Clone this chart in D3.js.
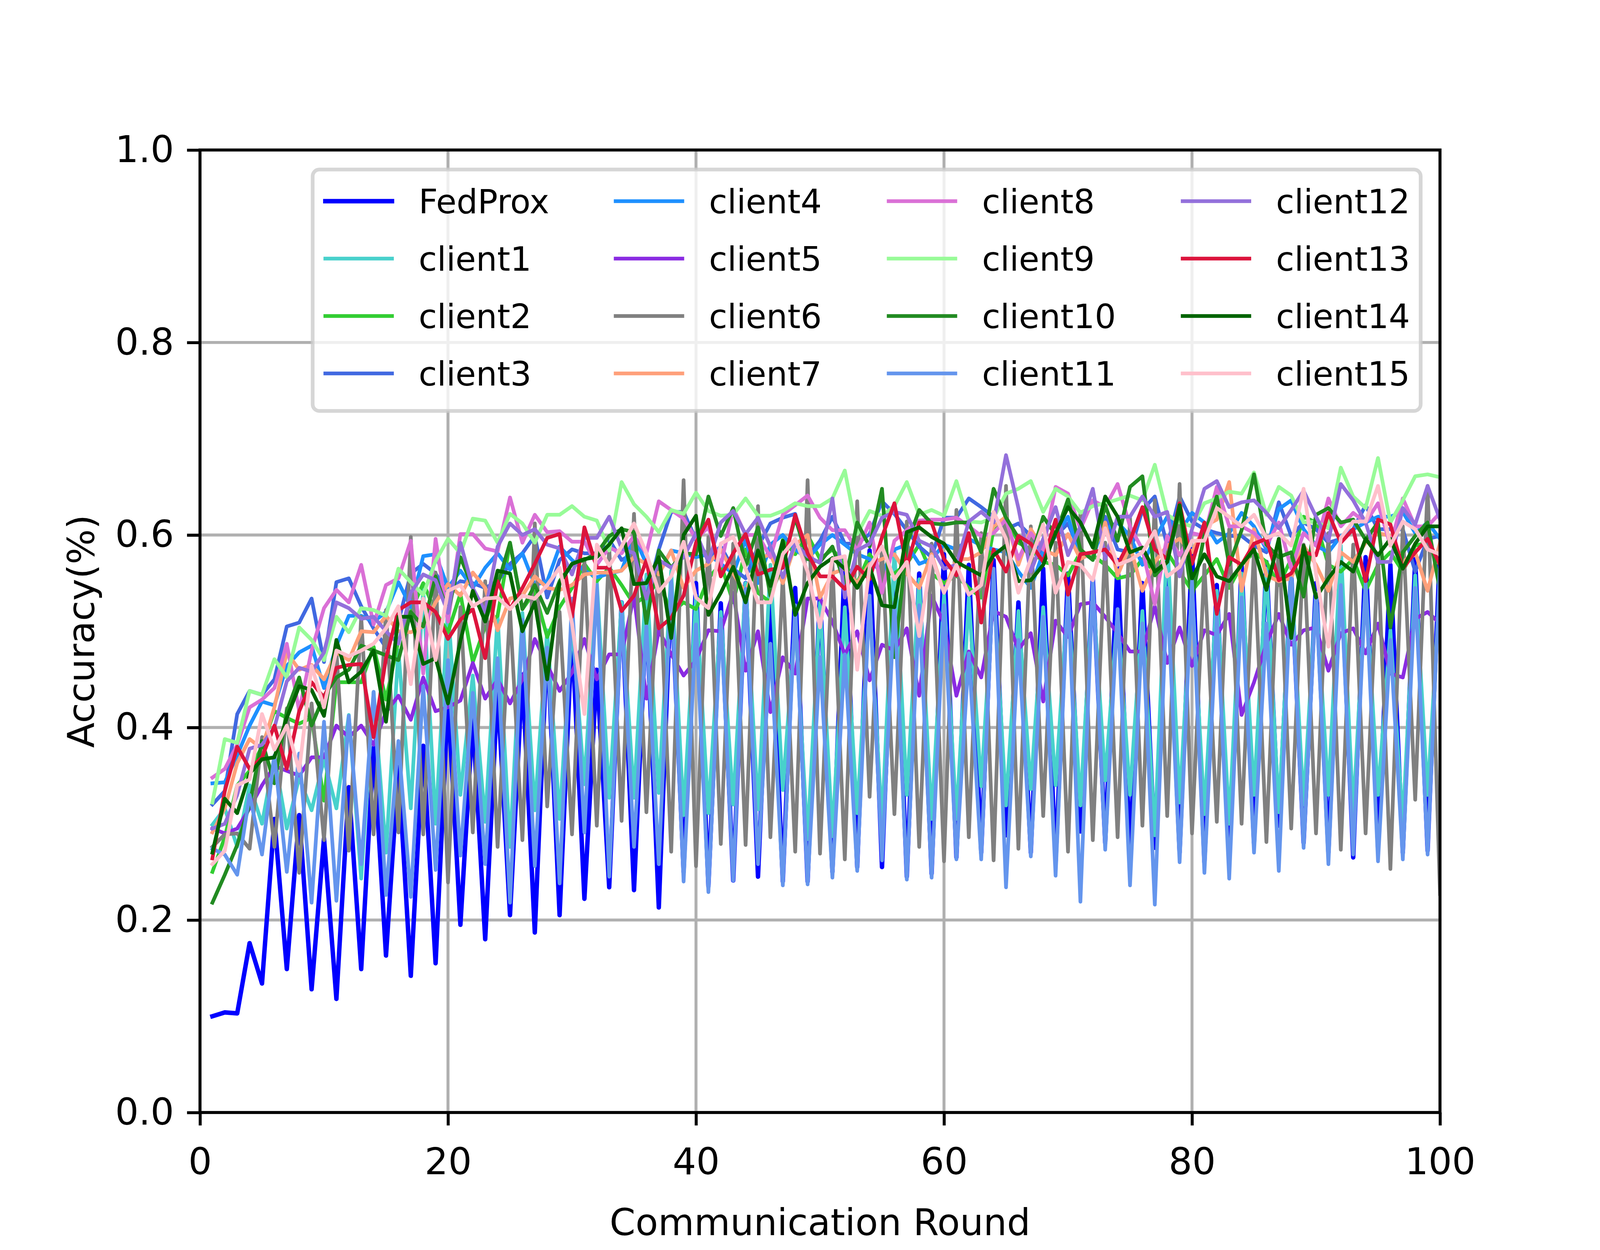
<!DOCTYPE html>
<html>
<head>
<meta charset="utf-8">
<script src="https://cdn.jsdelivr.net/npm/d3@7"></script>
<style>
  html, body { margin: 0; padding: 0; background: #ffffff; overflow: hidden; }
  svg { display: block; }
  text { font-family: "DejaVu Sans", sans-serif; fill: #000000; }
</style>
</head>
<body>
<svg id="chart"></svg>
<script>
// ---------------- DATA ----------------
const rounds = d3.range(1, 101);
const seriesNames = ["FedProx","client1","client2","client3","client4","client5","client6","client7",
                     "client8","client9","client10","client11","client12","client13","client14","client15"];
const seriesColors = ["#0000ff","#48d1cc","#32cd32","#4169e1","#1e90ff","#8a2be2","#808080","#ffa07a",
                      "#da70d6","#98fb98","#228b22","#6495ed","#9370db","#dc143c","#006400","#ffc0cb"];
const xTicks = [0, 20, 40, 60, 80, 100];
const yTicks = [0.0, 0.2, 0.4, 0.6, 0.8, 1.0];

const fedprox = [0.100,0.104,0.103,0.176,0.134,0.305,0.149,0.309,0.128,0.285,0.118,0.338,0.149,0.379,0.163,0.359,0.142,0.381,0.155,0.431,
0.195,0.41,0.18,0.44,0.205,0.455,0.187,0.49,0.205,0.50,0.222,0.46,0.234,0.53,0.231,0.52,0.213,0.55,0.25,0.55,
0.235,0.529,0.241,0.55,0.245,0.54,0.24,0.545,0.24,0.539,0.25,0.574,0.255,0.584,0.255,0.57,0.245,0.56,0.248,0.58,
0.265,0.569,0.27,0.574,0.288,0.53,0.27,0.565,0.26,0.56,0.292,0.555,0.28,0.574,0.27,0.55,0.275,0.57,0.27,0.585,
0.26,0.548,0.26,0.569,0.28,0.572,0.298,0.56,0.28,0.55,0.27,0.57,0.265,0.577,0.275,0.569,0.27,0.575,0.272,0.585];

const client1 = [0.299,0.316,0.276,0.34,0.30,0.37,0.295,0.348,0.314,0.367,0.316,0.413,0.243,0.437,0.27,0.48,0.316,0.544,0.30,0.526,
0.33,0.454,0.302,0.516,0.276,0.519,0.314,0.501,0.305,0.508,0.341,0.552,0.327,0.53,0.327,0.559,0.332,0.563,0.309,0.537,
0.311,0.52,0.32,0.55,0.315,0.569,0.335,0.51,0.284,0.53,0.287,0.525,0.311,0.53,0.3,0.584,0.33,0.554,0.305,0.538,
0.305,0.535,0.339,0.55,0.319,0.521,0.336,0.525,0.34,0.538,0.319,0.545,0.345,0.52,0.33,0.521,0.288,0.599,0.322,0.545,
0.31,0.542,0.3,0.56,0.33,0.565,0.312,0.56,0.32,0.54,0.33,0.589,0.31,0.55,0.33,0.501,0.30,0.558,0.33,0.55];

const client2 = [0.25,0.286,0.34,0.355,0.38,0.417,0.41,0.404,0.41,0.324,0.447,0.447,0.447,0.484,0.429,0.49,0.52,0.55,0.52,0.499,
0.539,0.468,0.505,0.516,0.592,0.523,0.541,0.494,0.525,0.545,0.57,0.552,0.566,0.548,0.528,0.537,0.552,0.519,0.53,0.523,
0.555,0.57,0.53,0.585,0.54,0.53,0.595,0.58,0.6,0.575,0.585,0.57,0.55,0.58,0.56,0.56,0.57,0.59,0.56,0.55,
0.558,0.545,0.535,0.606,0.619,0.592,0.585,0.572,0.569,0.558,0.582,0.579,0.569,0.555,0.558,0.575,0.562,0.582,0.562,0.542,
0.558,0.575,0.545,0.569,0.582,0.572,0.548,0.575,0.619,0.613,0.569,0.562,0.575,0.542,0.569,0.582,0.562,0.589,0.592,0.569];

const client3 = [0.32,0.334,0.414,0.438,0.434,0.45,0.505,0.509,0.534,0.468,0.551,0.555,0.526,0.503,0.483,0.51,0.56,0.57,0.56,0.54,
0.552,0.55,0.545,0.552,0.57,0.581,0.599,0.535,0.574,0.585,0.581,0.581,0.595,0.574,0.581,0.534,0.585,0.624,0.624,0.595,
0.577,0.588,0.565,0.555,0.588,0.612,0.618,0.622,0.577,0.594,0.619,0.591,0.591,0.601,0.635,0.622,0.605,0.588,0.577,0.618,
0.618,0.638,0.629,0.619,0.606,0.612,0.599,0.579,0.599,0.612,0.582,0.575,0.619,0.585,0.582,0.626,0.64,0.589,0.64,0.614,
0.606,0.602,0.599,0.599,0.589,0.582,0.634,0.599,0.613,0.606,0.592,0.596,0.606,0.631,0.606,0.606,0.606,0.562,0.596,0.599];

const client4 = [0.342,0.343,0.371,0.402,0.427,0.423,0.464,0.478,0.485,0.441,0.485,0.516,0.516,0.51,0.52,0.551,0.525,0.578,0.58,0.545,
0.563,0.545,0.566,0.581,0.564,0.581,0.548,0.552,0.588,0.574,0.563,0.556,0.56,0.563,0.599,0.57,0.56,0.584,0.581,0.577,
0.58,0.57,0.56,0.595,0.55,0.59,0.6,0.585,0.575,0.59,0.6,0.59,0.58,0.575,0.56,0.585,0.59,0.57,0.575,0.59,
0.585,0.596,0.589,0.585,0.582,0.562,0.545,0.582,0.599,0.619,0.575,0.582,0.606,0.613,0.599,0.569,0.596,0.619,0.602,0.623,
0.613,0.592,0.602,0.623,0.609,0.585,0.627,0.636,0.606,0.589,0.582,0.599,0.606,0.613,0.619,0.619,0.624,0.602,0.613,0.596];

const client5 = [0.295,0.29,0.295,0.316,0.34,0.36,0.355,0.35,0.369,0.369,0.402,0.39,0.402,0.382,0.416,0.433,0.408,0.452,0.417,0.421,
0.428,0.467,0.43,0.45,0.425,0.45,0.492,0.465,0.438,0.457,0.492,0.45,0.476,0.476,0.537,0.43,0.501,0.476,0.454,0.47,
0.501,0.5,0.54,0.459,0.5,0.416,0.473,0.456,0.534,0.534,0.51,0.476,0.5,0.449,0.486,0.48,0.503,0.433,0.537,0.508,
0.433,0.479,0.452,0.521,0.515,0.481,0.498,0.427,0.511,0.494,0.528,0.53,0.515,0.498,0.479,0.479,0.526,0.467,0.504,0.464,
0.501,0.496,0.518,0.413,0.447,0.487,0.518,0.486,0.501,0.504,0.459,0.498,0.503,0.477,0.508,0.456,0.452,0.513,0.52,0.508];

const client6 = [0.276,0.289,0.29,0.274,0.39,0.276,0.42,0.249,0.425,0.283,0.48,0.272,0.515,0.289,0.522,0.291,0.598,0.289,0.561,0.239,
0.525,0.291,0.552,0.276,0.523,0.283,0.612,0.318,0.52,0.289,0.574,0.298,0.588,0.303,0.622,0.312,0.58,0.271,0.657,0.256,
0.598,0.279,0.591,0.278,0.63,0.286,0.557,0.271,0.657,0.269,0.571,0.263,0.635,0.328,0.588,0.31,0.614,0.276,0.591,0.261,
0.626,0.286,0.602,0.262,0.651,0.274,0.609,0.308,0.592,0.271,0.624,0.283,0.592,0.286,0.618,0.298,0.636,0.308,0.653,0.29,
0.569,0.302,0.606,0.3,0.585,0.281,0.596,0.295,0.59,0.29,0.602,0.273,0.59,0.29,0.58,0.253,0.609,0.325,0.651,0.227];

const client7 = [0.291,0.316,0.363,0.388,0.378,0.421,0.478,0.46,0.465,0.45,0.478,0.47,0.50,0.499,0.516,0.50,0.499,0.505,0.53,0.549,
0.537,0.561,0.545,0.501,0.534,0.537,0.557,0.545,0.543,0.548,0.559,0.561,0.561,0.563,0.577,0.57,0.559,0.584,0.545,0.563,
0.57,0.585,0.56,0.54,0.575,0.58,0.55,0.59,0.6,0.535,0.56,0.565,0.55,0.57,0.575,0.58,0.56,0.545,0.58,0.54,
0.575,0.575,0.582,0.609,0.619,0.569,0.606,0.585,0.579,0.601,0.575,0.582,0.613,0.558,0.589,0.542,0.572,0.589,0.596,0.582,
0.609,0.616,0.655,0.542,0.606,0.558,0.552,0.555,0.589,0.569,0.542,0.582,0.572,0.592,0.602,0.599,0.572,0.582,0.542,0.592];

const client8 = [0.348,0.357,0.382,0.421,0.429,0.441,0.487,0.417,0.48,0.524,0.543,0.53,0.569,0.507,0.548,0.555,0.594,0.456,0.596,0.51,
0.601,0.601,0.586,0.583,0.639,0.592,0.621,0.603,0.604,0.593,0.593,0.569,0.587,0.581,0.599,0.581,0.635,0.626,0.617,0.596,
0.608,0.568,0.628,0.6,0.6,0.577,0.621,0.631,0.641,0.618,0.605,0.605,0.584,0.613,0.54,0.594,0.605,0.615,0.616,0.616,
0.618,0.609,0.599,0.602,0.616,0.575,0.602,0.585,0.65,0.643,0.606,0.636,0.629,0.653,0.609,0.585,0.528,0.599,0.579,0.602,
0.599,0.65,0.609,0.609,0.602,0.589,0.613,0.565,0.602,0.589,0.638,0.609,0.623,0.613,0.633,0.589,0.638,0.609,0.609,0.623];

const client9 = [0.322,0.388,0.384,0.438,0.434,0.471,0.452,0.504,0.491,0.47,0.515,0.499,0.524,0.522,0.516,0.565,0.551,0.538,0.573,0.596,
0.581,0.617,0.615,0.592,0.622,0.612,0.592,0.621,0.621,0.63,0.619,0.615,0.584,0.655,0.632,0.619,0.603,0.626,0.622,0.644,
0.625,0.62,0.621,0.638,0.62,0.62,0.625,0.633,0.63,0.63,0.638,0.667,0.601,0.625,0.62,0.63,0.655,0.621,0.626,0.62,
0.656,0.614,0.613,0.618,0.643,0.648,0.656,0.624,0.648,0.64,0.623,0.63,0.633,0.637,0.641,0.636,0.673,0.621,0.613,0.609,
0.633,0.638,0.645,0.643,0.665,0.621,0.65,0.641,0.613,0.614,0.607,0.67,0.64,0.628,0.68,0.613,0.636,0.661,0.663,0.66];

const client10 = [0.218,0.247,0.278,0.32,0.386,0.342,0.417,0.452,0.402,0.433,0.452,0.46,0.485,0.48,0.475,0.47,0.52,0.505,0.557,0.52,
0.577,0.545,0.51,0.548,0.592,0.523,0.548,0.519,0.552,0.57,0.574,0.581,0.599,0.606,0.603,0.508,0.584,0.566,0.581,0.58,
0.64,0.599,0.628,0.568,0.608,0.537,0.57,0.618,0.575,0.572,0.588,0.55,0.613,0.588,0.648,0.473,0.59,0.626,0.612,0.611,
0.613,0.613,0.582,0.648,0.618,0.597,0.575,0.619,0.6,0.637,0.585,0.574,0.631,0.594,0.65,0.661,0.558,0.572,0.626,0.535,
0.6,0.64,0.569,0.605,0.663,0.59,0.577,0.582,0.536,0.621,0.628,0.613,0.616,0.595,0.613,0.504,0.582,0.599,0.613,0.542];

const client11 = [0.274,0.268,0.247,0.33,0.268,0.371,0.25,0.373,0.218,0.406,0.22,0.412,0.258,0.437,0.226,0.386,0.224,0.443,0.252,0.47,
0.267,0.436,0.258,0.472,0.218,0.512,0.256,0.483,0.238,0.534,0.291,0.548,0.245,0.519,0.276,0.505,0.258,0.552,0.24,0.507,
0.229,0.513,0.241,0.544,0.258,0.487,0.236,0.527,0.237,0.473,0.244,0.476,0.251,0.537,0.262,0.53,0.242,0.527,0.244,0.527,
0.263,0.477,0.263,0.565,0.234,0.491,0.266,0.515,0.246,0.545,0.219,0.552,0.273,0.523,0.236,0.508,0.216,0.545,0.26,0.552,
0.249,0.516,0.243,0.535,0.27,0.508,0.251,0.555,0.275,0.538,0.258,0.548,0.268,0.55,0.261,0.491,0.263,0.545,0.268,0.569];

const client12 = [0.295,0.30,0.33,0.378,0.382,0.40,0.448,0.462,0.458,0.478,0.53,0.524,0.513,0.515,0.50,0.487,0.54,0.559,0.553,0.519,
0.592,0.545,0.52,0.588,0.612,0.6,0.606,0.59,0.586,0.559,0.597,0.597,0.619,0.586,0.581,0.534,0.574,0.566,0.577,0.602,
0.572,0.613,0.625,0.601,0.618,0.588,0.556,0.591,0.578,0.571,0.638,0.535,0.584,0.591,0.618,0.624,0.621,0.594,0.588,0.565,
0.569,0.614,0.624,0.613,0.683,0.628,0.562,0.596,0.629,0.579,0.609,0.648,0.575,0.619,0.619,0.64,0.619,0.624,0.557,0.606,
0.648,0.656,0.629,0.634,0.636,0.623,0.607,0.626,0.646,0.619,0.594,0.653,0.636,0.613,0.572,0.572,0.628,0.611,0.651,0.616];

const client13 = [0.264,0.334,0.38,0.357,0.369,0.402,0.357,0.417,0.447,0.431,0.462,0.465,0.466,0.39,0.472,0.522,0.53,0.53,0.52,0.492,
0.512,0.523,0.472,0.552,0.523,0.545,0.57,0.597,0.601,0.515,0.608,0.566,0.566,0.521,0.537,0.574,0.503,0.514,0.537,0.592,
0.616,0.557,0.581,0.601,0.559,0.564,0.566,0.621,0.581,0.557,0.557,0.544,0.567,0.554,0.598,0.633,0.567,0.613,0.613,0.575,
0.558,0.602,0.509,0.585,0.562,0.599,0.591,0.572,0.616,0.538,0.58,0.582,0.585,0.569,0.594,0.629,0.585,0.575,0.633,0.57,
0.613,0.518,0.577,0.569,0.591,0.596,0.553,0.56,0.582,0.579,0.623,0.592,0.606,0.552,0.616,0.611,0.565,0.582,0.596,0.569];

const client14 = [0.27,0.326,0.311,0.352,0.367,0.369,0.41,0.443,0.439,0.412,0.491,0.447,0.458,0.48,0.406,0.515,0.515,0.466,0.472,0.425,
0.49,0.542,0.51,0.563,0.56,0.5,0.53,0.45,0.55,0.57,0.575,0.577,0.59,0.607,0.549,0.55,0.577,0.493,0.6,0.62,
0.517,0.54,0.567,0.53,0.584,0.547,0.594,0.517,0.55,0.567,0.576,0.565,0.545,0.567,0.527,0.525,0.603,0.608,0.598,0.591,
0.572,0.565,0.558,0.579,0.589,0.552,0.553,0.569,0.602,0.629,0.613,0.587,0.64,0.619,0.582,0.587,0.562,0.572,0.631,0.555,
0.58,0.557,0.552,0.569,0.585,0.543,0.596,0.493,0.589,0.535,0.555,0.572,0.562,0.596,0.579,0.596,0.565,0.591,0.609,0.609];

const client15 = [0.258,0.272,0.34,0.346,0.414,0.377,0.402,0.355,0.464,0.421,0.48,0.474,0.48,0.487,0.503,0.526,0.445,0.534,0.47,0.542,
0.548,0.526,0.534,0.535,0.523,0.537,0.534,0.548,0.566,0.508,0.414,0.59,0.568,0.588,0.612,0.581,0.541,0.557,0.593,0.535,
0.524,0.591,0.598,0.565,0.53,0.53,0.58,0.596,0.562,0.504,0.575,0.578,0.46,0.567,0.588,0.554,0.572,0.495,0.578,0.54,
0.569,0.538,0.548,0.624,0.596,0.54,0.575,0.611,0.54,0.572,0.569,0.553,0.607,0.569,0.574,0.582,0.604,0.557,0.567,0.594,
0.594,0.628,0.619,0.609,0.621,0.597,0.602,0.589,0.648,0.56,0.484,0.597,0.614,0.614,0.651,0.589,0.614,0.606,0.585,0.58];

const seriesValues = [fedprox, client1, client2, client3, client4, client5, client6, client7,
                      client8, client9, client10, client11, client12, client13, client14, client15];

// ---------------- LAYOUT (reference figure is 4800 x 3200) ----------------
const W = 4800, H = 3200;
const vw = window.innerWidth || W, vh = window.innerHeight || H;
const sx = vw / W, sy = vh / H, sf = Math.min(sx, sy);
const X = v => v * sx, Y = v => v * sy, S = v => v * sf;

const L = X(600), R = X(4320), T = Y(384), B = Y(2848);
const PT = 800 / 72;           // reference pixels per point
const fs = S(10 * PT);         // axis font size
const legFs = S(9 * PT);       // legend font size
const lwAxis = S(0.8 * PT);

const svg = d3.select("#chart").attr("width", vw).attr("height", vh);
svg.append("rect").attr("width", vw).attr("height", vh).attr("fill", "#ffffff");

const x = d3.scaleLinear().domain([0, 100]).range([L, R]);
const y = d3.scaleLinear().domain([0, 1]).range([B, T]);

// grid
const grid = svg.append("g").attr("stroke", "#b0b0b0").attr("stroke-width", lwAxis).attr("stroke-linecap", "square");
grid.selectAll("line.gx").data(xTicks).join("line")
  .attr("x1", d => x(d)).attr("x2", d => x(d)).attr("y1", T).attr("y2", B);
grid.selectAll("line.gy").data(yTicks).join("line")
  .attr("x1", L).attr("x2", R).attr("y1", d => y(d)).attr("y2", d => y(d));

// clip
svg.append("clipPath").attr("id", "plotclip")
  .append("rect").attr("x", L).attr("y", T).attr("width", R - L).attr("height", B - T);

// lines
const line = d3.line().x((d, i) => x(rounds[i])).y(d => y(d));
const linesG = svg.append("g").attr("clip-path", "url(#plotclip)");
seriesValues.forEach((vals, k) => {
  linesG.append("path")
    .attr("d", line(vals))
    .attr("fill", "none")
    .attr("stroke", seriesColors[k])
    .attr("stroke-width", S(k === 0 ? 1.2 * PT : 1.0 * PT))
    .attr("stroke-linejoin", "round")
    .attr("stroke-linecap", "square");
});

// axes
const tickLen = S(3.5 * PT);
const xPad = Y(3006 - 2848) - tickLen - 0.71 * fs;   // puts tick-label baseline where the reference has it
const yPad = X(600 - 522) - tickLen;
const xAxis = d3.axisBottom(x).tickValues(xTicks).tickFormat(d3.format("d")).tickSize(tickLen).tickPadding(xPad);
const yAxis = d3.axisLeft(y).tickValues(yTicks).tickFormat(d3.format(".1f")).tickSize(tickLen).tickPadding(yPad);

const gx = svg.append("g").attr("transform", `translate(0,${B})`).call(xAxis);
const gy = svg.append("g").attr("transform", `translate(${L},0)`).call(yAxis);
[gx, gy].forEach(g => {
  g.select(".domain").remove();
  g.selectAll(".tick line").attr("stroke", "#000").attr("stroke-width", lwAxis);
  g.selectAll(".tick text").attr("font-size", fs).attr("font-family", "DejaVu Sans").attr("fill", "#000");
});

// spines
svg.append("rect").attr("x", L).attr("y", T).attr("width", R - L).attr("height", B - T)
  .attr("fill", "none").attr("stroke", "#000").attr("stroke-width", lwAxis).attr("stroke-linejoin", "miter");

// axis labels
svg.append("text").attr("x", (L + R) / 2).attr("y", Y(3162)).attr("text-anchor", "middle")
  .attr("font-size", fs).text("Communication Round");
svg.append("text").attr("transform", `translate(${X(282)},${(T + B) / 2}) rotate(-90)`).attr("text-anchor", "middle")
  .attr("font-size", fs).text("Accuracy(%)");

// legend (upper right, 4 columns)
const leg = svg.append("g");
leg.append("rect").attr("x", X(938)).attr("y", Y(434)).attr("width", X(3324)).attr("height", Y(618))
  .attr("rx", 0.2 * legFs).attr("ry", 0.2 * legFs)
  .attr("fill", "#ffffff").attr("fill-opacity", 0.8)
  .attr("stroke", "#cccccc").attr("stroke-opacity", 0.8).attr("stroke-width", S(1.0 * PT));
const colStarts = [976, 1847, 2666, 3548];
const rowY0 = 515, rowStep = 147;
seriesNames.forEach((name, k) => {
  const c = Math.floor(k / 4), r = k % 4;
  const hx = X(colStarts[c]), hy = Y(rowY0 + r * rowStep);
  leg.append("line").attr("x1", hx).attr("x2", hx + X(200)).attr("y1", hy).attr("y2", hy)
    .attr("stroke", seriesColors[k]).attr("stroke-width", S(k === 0 ? 1.2 * PT : 1.0 * PT))
    .attr("stroke-linecap", "square");
  leg.append("text").attr("x", hx + X(280)).attr("y", hy + 0.36 * legFs)
    .attr("font-size", legFs).text(name);
});
</script>
</body>
</html>
